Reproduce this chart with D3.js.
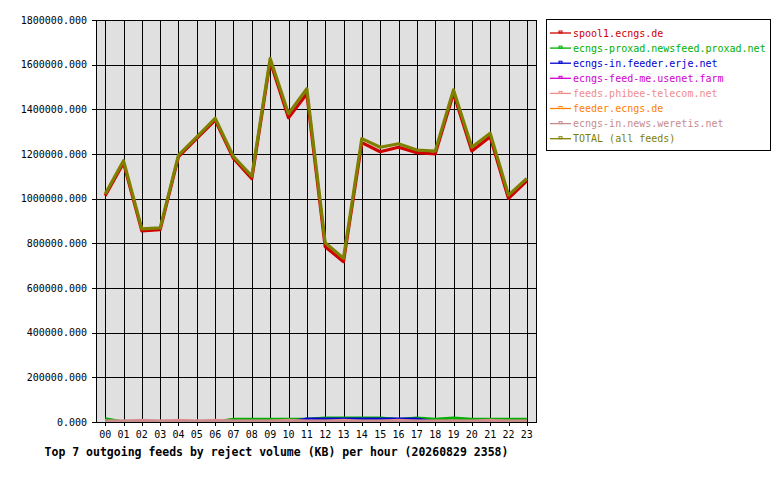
<!DOCTYPE html>
<html>
<head>
<meta charset="utf-8">
<script src="https://cdn.jsdelivr.net/npm/d3@7"></script>
<style>
  body { margin: 0; background: #fff; }
  svg text { font-family: "DejaVu Sans Mono", monospace; }
</style>
</head>
<body>
<svg width="780" height="480"></svg>
<script>
'use strict';

var hours = ['00','01','02','03','04','05','06','07','08','09','10','11',
             '12','13','14','15','16','17','18','19','20','21','22','23'];

var feedNames = ['spool1.ecngs.de', 'ecngs-proxad.newsfeed.proxad.net', 'ecngs-in.feeder.erje.net',
                 'ecngs-feed-me.usenet.farm', 'feeds.phibee-telecom.net', 'feeder.ecngs.de',
                 'ecngs-in.news.weretis.net', 'TOTAL (all feeds)'];
var feedColors = ['#d00000', '#00b000', '#0000d0', '#d000d0', '#f08c8c', '#ff8000', '#c88c8c', '#808000'];

var spool1  = [1013000, 1160000, 856000, 861000, 1188000, 1270000, 1352000, 1180000, 1090000, 1615000, 1362000, 1470000,
               785000, 718000, 1251000, 1210000, 1230000, 1206000, 1200000, 1472000, 1213000, 1277000, 1001000, 1080000];
var proxad  = [14000, 0, 0, 0, 0, 0, 0, 12000, 12000, 12000, 12000, 12000,
               17000, 17000, 17000, 17000, 11000, 17000, 12000, 18000, 12000, 12000, 12000, 12000];
var erje    = [0, 0, 0, 0, 0, 0, 0, 0, 0, 0, 0, 13000,
               13000, 13000, 13000, 13000, 13000, 13000, 0, 0, 0, 0, 0, 0];
var feedme  = [0, 0, 0, 0, 0, 0, 0, 0, 0, 0, 0, 0,
               0, 0, 0, 0, 0, 0, 0, 0, 0, 0, 0, 0];
var phibee  = [3000, 3000, 7000, 3000, 7000, 3000, 7000, 3000, 3000, 3000, 7000, 3000,
               3000, 7000, 3000, 3000, 7000, 3000, 3000, 3000, 3000, 7000, 3000, 3000];
var feeder  = [0, 0, 0, 0, 0, 0, 0, 0, 0, 0, 0, 0,
               0, 0, 0, 0, 0, 0, 0, 0, 0, 0, 0, 0];
var weretis = [4000, 4000, 4000, 4000, 4000, 4000, 4000, 4000, 4000, 4000, 4000, 4000,
               4000, 4000, 4000, 4000, 4000, 4000, 4000, 4000, 4000, 4000, 4000, 4000];
var total   = [1021000, 1170000, 865000, 869000, 1195000, 1277000, 1360000, 1188000, 1101000, 1628000, 1380000, 1492000,
               803000, 733000, 1269000, 1230000, 1246000, 1218000, 1213000, 1487000, 1230000, 1293000, 1016000, 1091000];

var yTicks = [0, 200000, 400000, 600000, 800000, 1000000, 1200000, 1400000, 1600000, 1800000];

var titleText = 'Top 7 outgoing feeds by reject volume (KB) per hour (20260829 2358)';

var series = [spool1, proxad, erje, feedme, phibee, feeder, weretis, total];

var PLOT = { LEFT: 96, TOP: 20, RIGHT: 536, BOTTOM: 422 };

var svg = d3.select('svg');

var x = d3.scaleBand()
    .domain(hours)
    .range([PLOT.LEFT, PLOT.RIGHT]);

var y = d3.scaleLinear()
    .domain([0, 1800000])
    .range([PLOT.BOTTOM, PLOT.TOP]);

function cx(h) { return x(h) + x.bandwidth() / 2; }

//plot background
svg.append('rect')
    .attr('x', PLOT.LEFT)
    .attr('y', PLOT.TOP)
    .attr('width', PLOT.RIGHT - PLOT.LEFT)
    .attr('height', PLOT.BOTTOM - PLOT.TOP)
    .attr('fill', '#e0e0e0');

//grid
var grid = svg.append('g')
    .attr('id', 'grid-group')
    .attr('shape-rendering', 'crispEdges');

grid.selectAll('line.h')
    .data(yTicks)
    .enter()
    .append('line')
    .attr('class', 'h')
    .attr('stroke', '#000')
    .attr('stroke-width', 1)
    .attr('x1', PLOT.LEFT - 4)
    .attr('x2', PLOT.RIGHT)
    .attr('y1', function(d) { return Math.round(y(d)) + 0.5; })
    .attr('y2', function(d) { return Math.round(y(d)) + 0.5; });

grid.selectAll('line.v')
    .data(hours)
    .enter()
    .append('line')
    .attr('class', 'v')
    .attr('stroke', '#000')
    .attr('stroke-width', 1)
    .attr('x1', function(d) { return Math.round(cx(d)) + 0.5; })
    .attr('x2', function(d) { return Math.round(cx(d)) + 0.5; })
    .attr('y1', PLOT.TOP)
    .attr('y2', PLOT.BOTTOM + 4);

//axis labels
var axisY = d3.axisLeft(y)
    .tickValues(yTicks)
    .tickSize(0)
    .tickPadding(9)
    .tickFormat(d3.format('.3f'));

svg.append('g')
    .attr('class', 'axisY')
    .attr('transform', 'translate(' + PLOT.LEFT + ',0)')
    .call(axisY)
    .call(function(g) { g.select('.domain').remove(); })
    .selectAll('text')
    .attr('font-family', '"DejaVu Sans Mono", monospace')
    .attr('font-size', 10)
    .attr('fill', '#000');

var axisX = d3.axisBottom(x)
    .tickSize(0)
    .tickPadding(9);

svg.append('g')
    .attr('class', 'axisX')
    .attr('transform', 'translate(0,' + PLOT.BOTTOM + ')')
    .call(axisX)
    .call(function(g) { g.select('.domain').remove(); })
    .selectAll('text')
    .attr('font-family', '"DejaVu Sans Mono", monospace')
    .attr('font-size', 10)
    .attr('fill', '#000');

//lines
svg.append('clipPath')
    .attr('id', 'plot-clip')
    .append('rect')
    .attr('x', PLOT.LEFT)
    .attr('y', PLOT.TOP)
    .attr('width', PLOT.RIGHT - PLOT.LEFT)
    .attr('height', PLOT.BOTTOM - PLOT.TOP);

var line = d3.line()
    .x(function(d, i) { return cx(hours[i]); })
    .y(function(d) { return y(d); });

var linegroup = svg.append('g')
    .attr('id', 'line-group')
    .attr('clip-path', 'url(#plot-clip)');

series.forEach(function(s, i) {
    linegroup.append('path')
        .datum(s)
        .attr('fill', 'none')
        .attr('stroke', feedColors[i])
        .attr('stroke-width', 3.2)
        .attr('stroke-linejoin', 'round')
        .attr('d', line);
});

//plot border
svg.append('rect')
    .attr('x', PLOT.LEFT + 0.5)
    .attr('y', PLOT.TOP + 0.5)
    .attr('width', PLOT.RIGHT - PLOT.LEFT)
    .attr('height', PLOT.BOTTOM - PLOT.TOP)
    .attr('fill', 'none')
    .attr('stroke', '#000')
    .attr('stroke-width', 1)
    .attr('shape-rendering', 'crispEdges');

//title
svg.append('text')
    .attr('x', (42 + 511) / 2)
    .attr('y', 456)
    .attr('text-anchor', 'middle')
    .attr('font-size', 11.5)
    .attr('font-weight', 'bold')
    .attr('fill', '#000')
    .text(titleText);

//legend
var legend = svg.append('g').attr('id', 'legend');

legend.append('rect')
    .attr('x', 546.5)
    .attr('y', 19.5)
    .attr('width', 224)
    .attr('height', 131)
    .attr('fill', '#fff')
    .attr('stroke', '#000')
    .attr('stroke-width', 1)
    .attr('shape-rendering', 'crispEdges');

var items = legend.selectAll('g.item')
    .data(feedNames)
    .enter()
    .append('g')
    .attr('class', 'item')
    .attr('transform', function(d, i) { return 'translate(0,' + (33 + i * 15.1) + ')'; });

items.append('line')
    .attr('x1', 550)
    .attr('x2', 571)
    .attr('y1', 0)
    .attr('y2', 0)
    .attr('stroke', function(d, i) { return feedColors[i]; })
    .attr('stroke-width', 1.3);

items.append('rect')
    .attr('x', 559)
    .attr('y', -2)
    .attr('width', 3)
    .attr('height', 2)
    .attr('fill', 'none')
    .attr('stroke', function(d, i) { return feedColors[i]; })
    .attr('stroke-width', 1);

items.append('text')
    .attr('x', 573)
    .attr('y', 3.5)
    .attr('font-size', 10)
    .attr('fill', function(d, i) { return feedColors[i]; })
    .text(function(d) { return d; });
</script>
</body>
</html>
